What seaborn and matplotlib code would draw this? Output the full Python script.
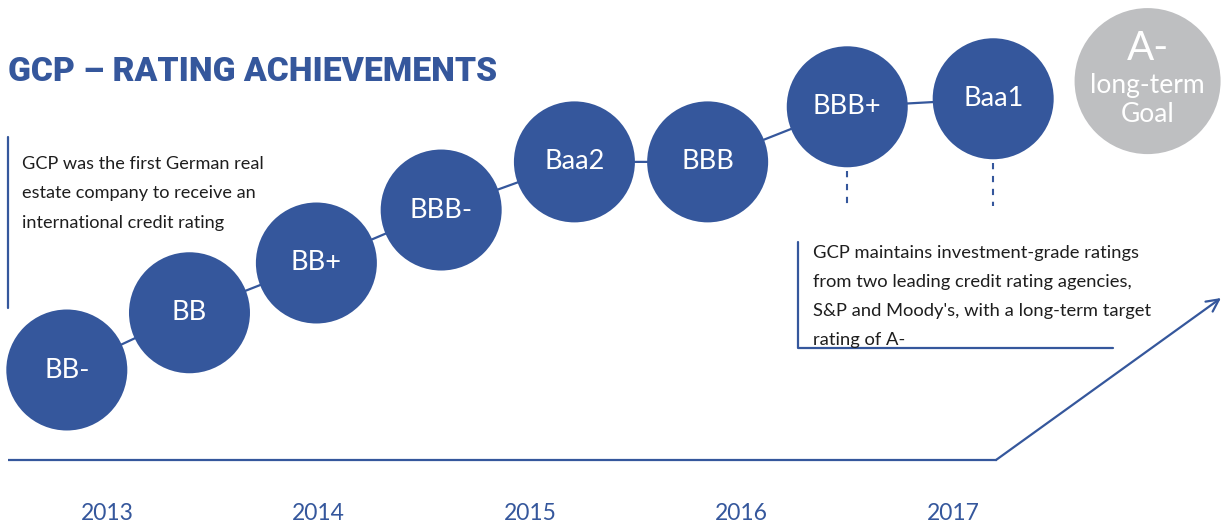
import numpy as np
import pandas as pd
import matplotlib
matplotlib.use("Agg")
import matplotlib.pyplot as plt
import seaborn as sns

# ---------------- data ----------------
ratings = ["BB-", "BB", "BB+", "BBB-", "Baa2", "BBB", "BBB+", "Baa1"]
rating_time = [2012.81, 2013.39, 2013.99, 2014.58, 2015.21, 2015.84, 2016.50, 2017.19]
rating_level = [1.00, 2.07, 3.00, 3.99, 4.89, 4.89, 5.92, 6.07]
goal_label = ["A-", "long-term", "Goal"]
goal_time = [2017.92]
goal_level = [6.40]
years = [2013, 2014, 2015, 2016, 2017]
left_note = ["GCP was the first German real",
             "estate company to receive an",
             "international credit rating"]
right_note = ["GCP maintains investment-grade ratings",
              "from two leading credit rating agencies,",
              "S&P and Moody's, with a long-term target",
              "rating of A-"]
title = "GCP \u2013 RATING ACHIEVEMENTS"

# ---------------- style ----------------
BLUE = "#35579C"
GRAY = "#BEBFC1"
DARK = "#1E1E1E"
BODY_FONT = ["Lato", "DejaVu Sans"]

sns.set_theme(style="white")
plt.rcParams["font.family"] = BODY_FONT

W, H = 1224, 522
fig = plt.figure(figsize=(W / 100, H / 100), dpi=100)
ax = fig.add_axes([0, 0, 1, 1])

X0, XS = 107, 211.5   # pixel of 2013, pixels per year
Y0, YS = 370, 53.5    # pixel of level 1, pixels per level
ax.set_xlim(2013 - X0 / XS, 2013 + (W - X0) / XS)
ax.set_ylim(1 - (H - Y0) / YS, 1 + Y0 / YS)
ax.axis("off")


def P(px, py):
    return (2013 + (px - X0) / XS, 1 + (Y0 - py) / YS)


df = pd.DataFrame({"rating": ratings, "time": rating_time, "level": rating_level})
gdf = pd.DataFrame({"time": goal_time, "level": goal_level})

# connector line
sns.lineplot(data=df, x="time", y="level", sort=False, estimator=None,
             color=BLUE, lw=1.6, zorder=2, ax=ax)
# rating circles
sns.scatterplot(data=df, x="time", y="level", s=(121 * 0.72) ** 2, color=BLUE,
                edgecolor="none", linewidth=0, legend=False, zorder=3, ax=ax)
sns.scatterplot(data=gdf, x="time", y="level", s=(146 * 0.72) ** 2, color=GRAY,
                edgecolor="none", linewidth=0, legend=False, zorder=3, ax=ax)
ax.set_xlabel("")
ax.set_ylabel("")

for r, t, l in zip(ratings, rating_time, rating_level):
    ax.text(t, l, r, color="white", fontsize=19.5, ha="center", va="center",
            zorder=4)

# goal text
gx, gy = goal_time[0], goal_level[0]
ax.text(gx, gy + (81 - 48) / YS, goal_label[0], color="white", fontsize=29,
        ha="center", va="center", zorder=4)
ax.text(gx, gy + (81 - 85) / YS, goal_label[1], color="white", fontsize=19,
        ha="center", va="center", zorder=4)
ax.text(gx, gy + (81 - 114) / YS, goal_label[2], color="white", fontsize=19,
        ha="center", va="center", zorder=4)

# dashed drops under BBB+ and Baa1
for i in (6, 7):
    t = rating_time[i]
    top = rating_level[i] - 64 / YS
    ax.plot([t, t], [top, P(0, 206)[1]], color=BLUE, lw=1.5,
            linestyle=(0, (3, 3.2)), zorder=1)

# title
ax.text(*P(8, 81), title, color=BLUE, fontsize=24.2, fontweight="black",
        family=["Roboto", "DejaVu Sans"], ha="left", va="baseline")

# left note
ax.plot(*zip(P(8, 137), P(8, 308)), color=BLUE, lw=1.6)
for i, line in enumerate(left_note):
    ax.text(*P(22, 169 + 29.3 * i), line, color=DARK, fontsize=13.1,
            ha="left", va="baseline")

# right note
ax.plot(*zip(P(798, 242), P(798, 348), P(1113, 348)), color=BLUE, lw=1.6)
for i, line in enumerate(right_note):
    ax.text(*P(813, 258 + 29 * i), line, color=DARK, fontsize=13.2,
            ha="left", va="baseline")

# bottom timeline with arrow
ax.plot(*zip(P(8, 460), P(997, 460)), color=BLUE, lw=1.6, solid_capstyle="butt")
ax.annotate("", xy=P(1221, 298), xytext=P(996, 460),
            arrowprops=dict(arrowstyle="->", color=BLUE, lw=1.6,
                            mutation_scale=22, shrinkA=0, shrinkB=0))

# years
for y in years:
    ax.text(y, P(0, 513)[1], str(y), color=BLUE, fontsize=16.5,
            ha="center", va="center")

fig.savefig("out.png", dpi=100)
